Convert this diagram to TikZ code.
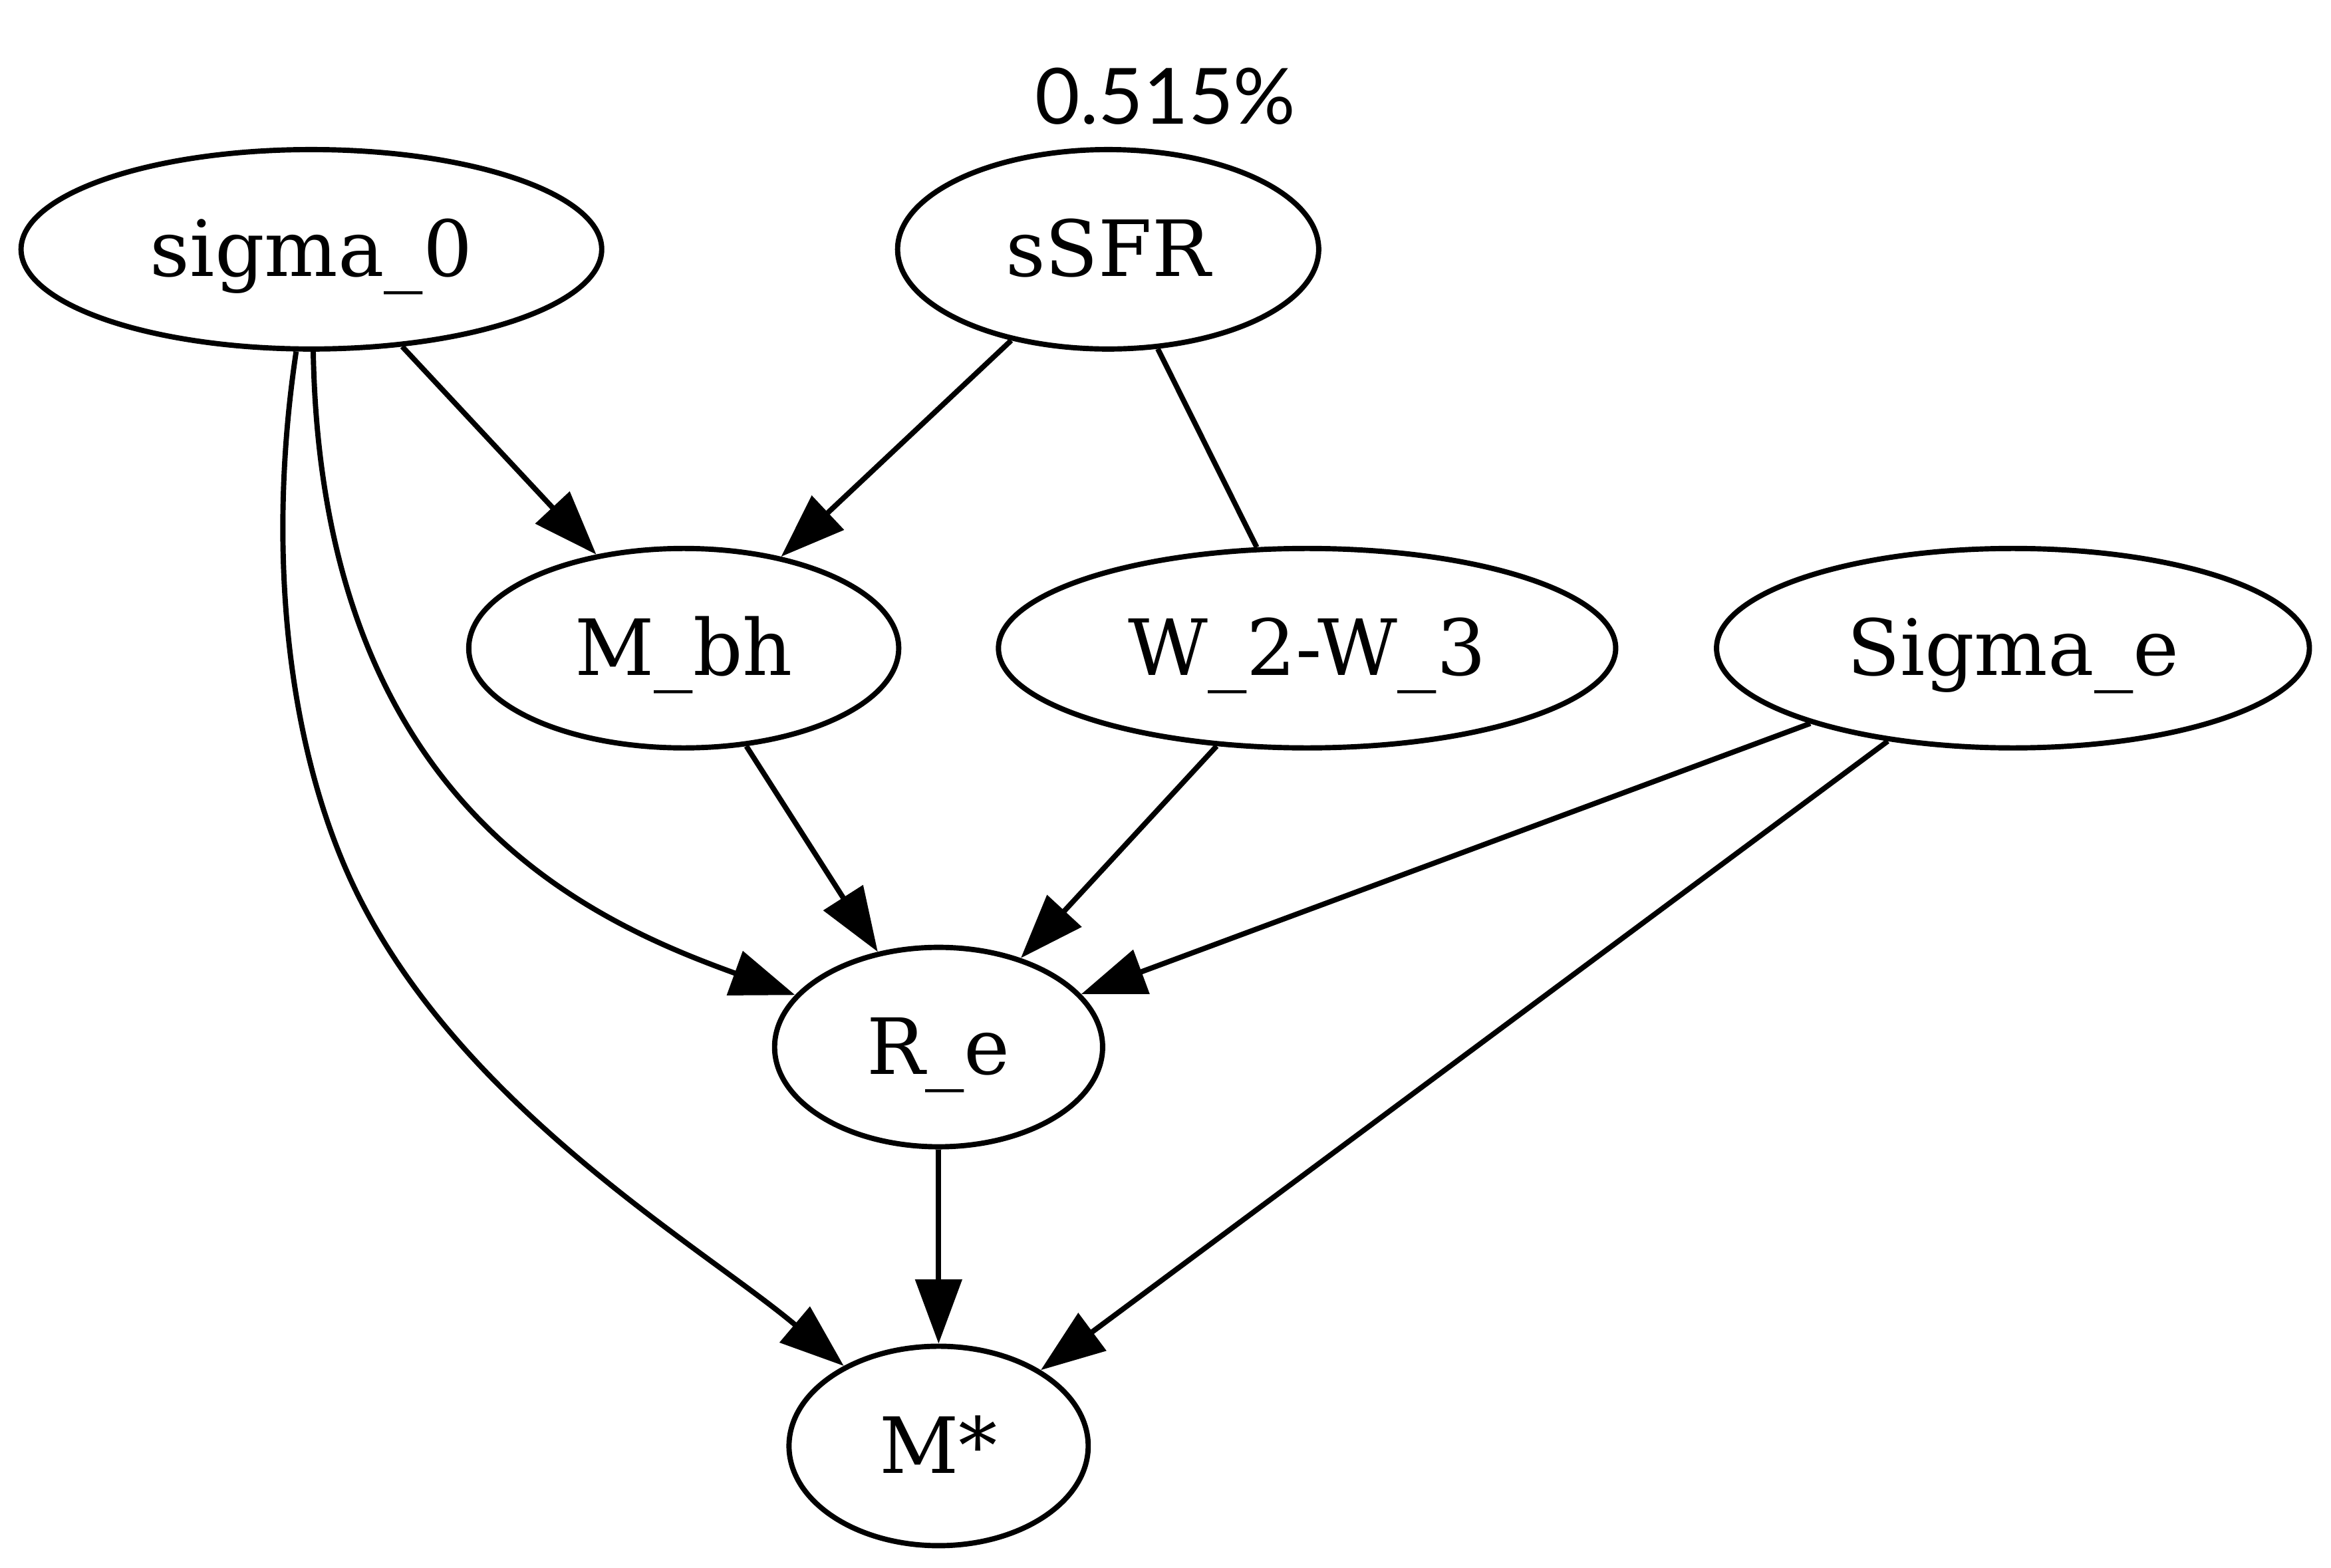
\documentclass[tikz,border=0pt]{standalone}
\usepackage{fontspec}
\setmainfont{DejaVu Serif}
\newfontfamily\labelfont{Lato}
\usetikzlibrary{arrows.meta,shapes.geometric}

\begin{document}
\begin{tikzpicture}[x=1pt,y=-1pt,
  var/.style={ellipse, draw, line width=0.95pt, inner sep=0pt,
              minimum height=36pt, text height=12.3pt, text depth=2.5pt,
              font=\fontsize{14}{16}\selectfont},
  arr/.style={line width=0.95pt, -{Triangle[length=11.6pt,width=8.3pt]}},
  link/.style={line width=0.95pt}]
\useasboundingbox (0,0) rectangle (420.7,283);

% graph label
\node[anchor=base, inner sep=0pt, font=\labelfont\fontsize{14}{16}\selectfont]
  (lab) at (210.35,22.4) {0.515\%};

% variables
\node[var, minimum width=104.8pt] (s0)   at (56.2,45)   {sigma\_0};
\node[var, minimum width=76pt]    (ssfr) at (200,45)    {sSFR};
\node[var, minimum width=77.6pt]  (mbh)  at (123.4,117) {M\_bh};
\node[var, minimum width=111.4pt] (w23)  at (235.9,117) {W\_2-W\_3};
\node[var, minimum width=107pt]   (sige) at (363.3,117) {Sigma\_e};
\node[var, minimum width=59.2pt]  (re)   at (169.4,189) {R\_e};
\node[var, minimum width=54pt]    (ms)   at (169.4,261) {M*};

% dependencies
\draw[arr]  (s0) -- (mbh);
\draw[arr]  (ssfr) -- (mbh);
\draw[link] (ssfr) -- (w23);
\draw[arr]  (s0) .. controls (58,145) and (106,166) .. (re);
\draw[arr]  (s0) .. controls (48,100) and (52,135) .. (63.8,159.9)
                 .. controls (82.7,199.7) and (127,225.2) .. (ms);
\draw[arr]  (mbh) -- (re);
\draw[arr]  (w23) -- (re);
\draw[arr]  (sige) -- (re);
\draw[arr]  (sige) -- (ms);
\draw[arr]  (re) -- (ms);
\end{tikzpicture}
\end{document}
